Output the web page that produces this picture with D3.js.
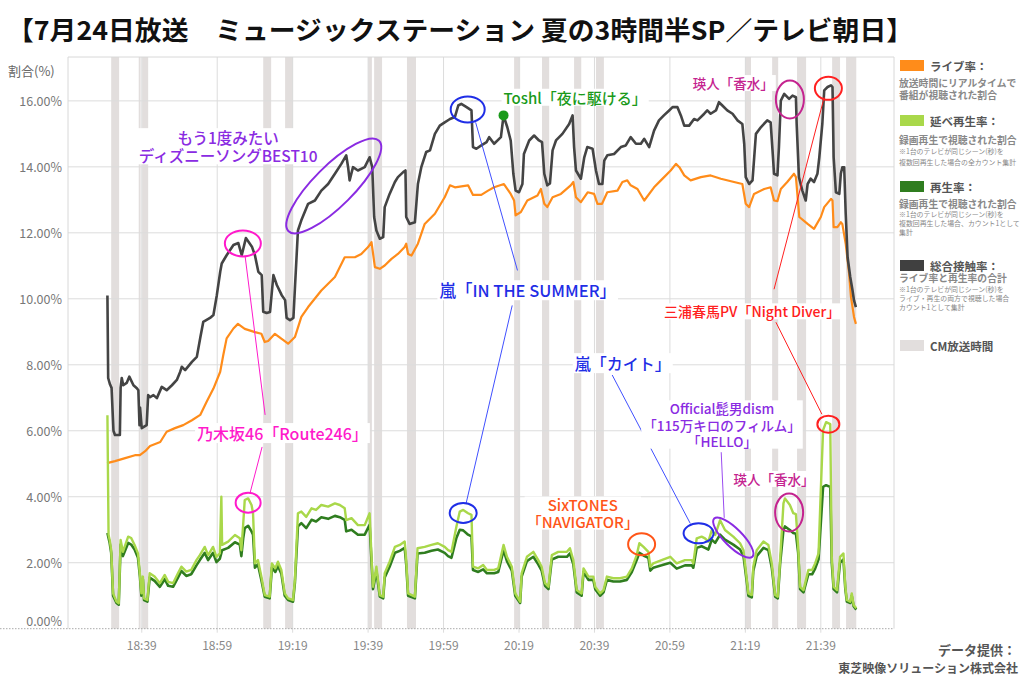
<!DOCTYPE html>
<html><head><meta charset="utf-8">
<script src="https://cdn.jsdelivr.net/npm/d3@7"></script>
<style>body{margin:0;background:#fff}svg{display:block;font-family:"Noto Sans CJK JP","Noto Sans",sans-serif}</style>
</head><body><svg id="c" width="1024" height="679"></svg>
<script>
// time = minutes after 18:00, value = %
const xTicks = [39, 59, 79, 99, 119, 139, 159, 179, 199, 219];
const yTicks = [0, 2, 4, 6, 8, 10, 12, 14, 16];

const cmBreaks = [[30.9,33.0],[38.2,38.7],[39.1,40.7],[71.2,73.3],[77.0,79.1],[99.0,100.0],[100.6,102.7],[109.3,111.7],[137.7,139.3],[145.1,147.0],[153.6,155.5],[159.4,161.5],[198.9,200.5],[206.1,207.7],[212.7,215.1],[222.0,224.1],[225.7,228.4]];

const totalReach = [[29.9,10.1],[30.1,7.6],[30.6,7.4],[31.0,7.3],[31.5,6.0],[31.9,5.87],[33.2,5.87],[33.4,7.3],[33.7,7.6],[34.1,7.38],[35.0,7.45],[35.7,7.64],[36.8,7.38],[37.7,7.29],[38.1,7.23],[38.4,6.17],[38.55,6.7],[39.0,6.08],[40.3,6.17],[40.7,7.08],[41.2,7.02],[42.1,7.08],[43.0,6.99],[44.3,7.33],[45.6,7.23],[47.0,7.38],[48.3,7.54],[49.2,7.79],[49.6,7.94],[50.5,7.84],[52.3,8.09],[53.6,8.24],[54.5,8.81],[55.3,9.3],[57.1,9.42],[58.0,9.51],[58.9,10.11],[59.8,10.82],[60.2,11.07],[61.5,11.32],[63.3,11.63],[64.6,11.69],[65.5,11.32],[66.6,11.84],[68.2,11.58],[69.0,11.32],[69.9,10.82],[70.8,10.72],[71.2,9.61],[72.1,9.57],[73.0,9.6],[73.9,10.72],[74.8,10.42],[76.1,10.11],[77.0,9.96],[77.4,9.42],[78.3,9.35],[79.2,9.42],[79.6,10.32],[80.4,12.07],[81.3,12.38],[83.1,12.88],[84.9,12.98],[86.6,13.28],[88.4,13.48],[90.2,13.79],[91.9,14.09],[93.2,14.35],[93.7,13.99],[94.1,13.59],[95.0,13.99],[96.3,13.89],[98.1,13.99],[99.4,14.29],[100.1,13.99],[100.6,12.48],[101.2,12.07],[102.1,11.82],[103.0,11.87],[103.4,12.78],[104.7,13.18],[106.1,13.54],[106.9,13.69],[108.3,13.84],[108.9,13.89],[109.1,12.48],[110.0,12.27],[111.4,12.32],[112.2,13.48],[113.1,13.99],[114.4,14.45],[115.4,14.5],[116.7,15.0],[118.0,15.25],[119.3,15.35],[120.7,15.45],[122.0,15.51],[122.9,15.86],[123.7,15.91],[125.1,15.81],[126.4,15.71],[126.8,14.6],[127.7,14.55],[129.0,14.65],[130.4,14.75],[131.1,14.9],[132.4,14.7],[134.2,14.9],[134.9,15.55],[135.9,15.2],[136.8,14.8],[137.5,13.79],[138.1,13.28],[139.0,13.23],[139.9,13.48],[140.3,14.39],[141.7,14.8],[143.0,14.95],[144.3,14.8],[145.1,14.75],[145.7,13.79],[146.5,13.44],[147.2,13.5],[147.9,14.5],[148.8,14.8],[150.5,15.0],[152.3,15.3],[153.2,15.56],[153.6,14.6],[154.1,13.89],[155.4,13.64],[156.3,14.29],[157.1,14.6],[158.5,14.55],[159.4,13.89],[160.2,13.48],[161.1,13.48],[161.6,14.19],[162.4,14.35],[164.2,14.39],[166.0,14.6],[167.3,14.65],[168.6,14.9],[170.0,14.7],[171.3,14.7],[172.2,14.85],[173.5,14.6],[174.8,15.1],[176.1,15.41],[177.4,15.56],[178.8,15.71],[179.7,15.81],[181.0,15.81],[181.9,15.56],[182.8,15.25],[184.1,15.25],[185.4,15.45],[186.3,15.41],[188.1,15.61],[188.9,15.71],[189.8,15.61],[191.2,15.71],[192.0,15.96],[192.9,15.86],[194.2,15.71],[195.6,15.61],[196.9,15.41],[198.2,15.3],[198.7,14.7],[199.1,13.69],[200.0,13.48],[200.9,13.59],[201.8,15.0],[203.1,15.2],[204.8,15.41],[205.7,15.35],[206.2,14.5],[206.6,13.79],[207.5,13.74],[207.9,14.6],[208.4,16.01],[209.3,16.21],[210.6,16.06],[211.5,16.16],[212.4,16.11],[212.6,15.3],[213.2,13.69],[214.1,13.28],[215.0,12.98],[215.5,13.48],[216.3,13.64],[217.2,13.54],[218.1,13.79],[218.6,14.29],[219.4,15.3],[219.9,16.32],[220.8,16.42],[221.7,16.47],[222.1,16.42],[222.4,14.29],[223.0,13.23],[223.9,13.18],[224.3,13.79],[224.7,13.99],[225.2,13.99],[225.6,12.58],[226.1,11.26],[226.8,10.66],[227.4,10.26],[227.8,9.95],[228.3,9.75]];

const liveRate = [[29.8,5.02],[31.9,5.08],[34.6,5.17],[37.2,5.26],[38.5,5.26],[39.9,5.38],[41.2,5.54],[43.9,5.66],[45.6,5.97],[47.8,6.08],[50.0,6.17],[52.3,6.32],[54.5,6.48],[56.2,6.88],[58.0,7.28],[59.8,7.79],[60.6,8.29],[61.5,8.8],[63.3,9.1],[64.5,9.24],[66.3,9.09],[69.0,8.99],[70.7,8.94],[71.6,8.69],[72.5,8.72],[74.3,8.94],[76.0,8.79],[77.8,8.64],[79.6,8.84],[81.3,9.45],[83.1,9.75],[86.6,10.25],[90.2,10.66],[92.8,11.26],[95.5,11.26],[97.2,11.36],[99.0,11.57],[99.9,11.72],[100.8,10.96],[102.1,10.91],[103.4,11.01],[105.2,11.21],[106.9,11.36],[108.7,11.57],[109.1,11.67],[109.6,11.36],[110.5,11.31],[112.2,11.67],[114.0,12.27],[116.7,12.58],[119.3,13.08],[120.7,13.44],[122.0,13.38],[125.5,13.44],[126.8,13.15],[129.0,13.15],[130.8,13.28],[132.4,13.38],[135.0,13.48],[136.8,13.18],[137.7,12.98],[138.1,12.53],[139.5,12.63],[141.2,12.98],[143.9,13.13],[144.8,13.33],[145.7,12.88],[146.5,12.78],[147.9,13.08],[150.1,13.18],[152.7,13.44],[153.4,13.54],[154.1,13.08],[155.4,12.93],[157.2,13.23],[158.9,13.18],[159.8,12.88],[161.0,12.88],[162.4,13.23],[165.1,13.28],[166.4,13.54],[167.7,13.59],[168.6,13.44],[170.4,13.33],[172.2,12.98],[174.8,13.38],[176.6,13.59],[179.2,13.89],[180.6,14.09],[181.5,13.99],[182.8,13.74],[184.5,13.59],[187.2,13.69],[189.8,13.74],[192.5,13.64],[196.0,13.54],[198.2,13.48],[199.1,12.88],[200.0,12.78],[201.3,13.18],[204.0,13.33],[205.7,13.38],[206.6,12.98],[207.5,12.96],[208.4,13.33],[210.1,13.54],[211.9,13.79],[212.4,13.69],[213.3,12.48],[215.5,12.27],[217.2,12.12],[219.0,12.48],[219.9,12.78],[221.7,13.03],[222.1,12.98],[222.4,12.17],[223.4,12.17],[224.3,12.32],[224.7,12.27],[225.6,11.67],[226.5,10.76],[227.0,10.05],[227.8,9.45],[228.3,9.24]];

const replayTotal = [[29.9,6.47],[30.2,2.84],[30.5,2.69],[30.9,2.38],[31.4,1.07],[32.3,0.82],[32.9,0.77],[33.4,2.69],[34.0,2.33],[35.4,2.79],[36.2,2.75],[37.1,2.54],[38.0,2.28],[38.5,1.68],[38.9,1.07],[39.3,1.58],[39.6,0.92],[40.5,0.87],[41.1,1.68],[42.4,1.58],[43.8,1.38],[45.1,1.63],[46.0,1.42],[47.3,1.38],[48.6,1.68],[49.5,1.88],[50.8,1.73],[52.1,1.78],[53.5,2.08],[54.4,2.23],[55.7,2.48],[56.6,2.23],[57.9,2.48],[58.8,2.18],[59.7,2.28],[60.1,4.0],[60.3,2.54],[61.9,2.64],[63.7,2.84],[65.0,2.74],[65.4,2.38],[65.9,3.19],[66.3,3.9],[67.2,3.95],[68.1,3.75],[68.5,3.5],[69.0,1.98],[69.8,2.08],[70.7,1.58],[71.6,1.02],[72.9,0.97],[73.5,1.98],[74.4,1.83],[75.1,2.03],[76.0,1.78],[76.9,1.07],[77.8,0.92],[79.1,0.87],[79.6,1.48],[80.4,3.5],[81.3,3.55],[82.6,3.39],[84.0,3.65],[85.2,3.6],[86.6,3.75],[88.4,3.7],[90.2,3.8],[91.5,3.75],[92.8,3.65],[93.2,3.29],[94.6,3.35],[96.3,3.14],[98.1,3.14],[99.4,3.5],[99.9,2.18],[100.3,1.27],[101.2,1.88],[102.1,1.02],[103.0,0.97],[103.4,1.68],[104.7,2.03],[106.1,2.48],[107.4,2.54],[108.7,2.64],[109.1,2.08],[109.6,1.07],[111.4,0.97],[112.1,2.44],[114.0,2.48],[115.8,2.54],[117.5,2.59],[119.3,2.48],[120.2,2.38],[121.1,2.33],[122.4,3.09],[123.3,3.55],[124.2,3.6],[125.5,3.5],[126.4,3.45],[126.8,1.88],[128.2,1.83],[129.5,1.93],[130.5,1.78],[132.4,1.78],[133.5,1.83],[134.9,2.54],[135.8,2.18],[137.1,1.88],[138.0,1.07],[139.3,0.82],[139.7,1.68],[141.1,2.18],[142.8,2.33],[144.1,2.08],[145.0,1.88],[145.9,1.38],[146.8,1.27],[147.7,2.23],[149.4,2.33],[151.7,2.33],[152.5,2.44],[153.4,2.08],[154.3,1.17],[155.6,1.07],[156.1,1.83],[157.4,1.58],[158.7,1.58],[159.2,1.27],[160.5,1.07],[161.4,1.17],[162.3,1.58],[164.0,1.53],[165.8,1.53],[167.6,1.58],[168.9,1.83],[170.2,2.23],[170.9,2.59],[172.0,2.48],[173.3,2.33],[173.8,1.88],[174.6,1.98],[176.8,2.08],[179.1,2.18],[180.8,1.98],[183.0,2.08],[184.8,2.08],[185.2,1.98],[186.1,2.74],[187.4,2.79],[188.3,2.74],[189.2,2.64],[190.1,2.99],[191.0,2.84],[192.3,3.29],[193.6,2.99],[195.8,2.79],[197.6,2.59],[198.5,2.38],[199.4,1.48],[199.8,1.07],[200.7,1.02],[201.1,1.88],[202.0,2.38],[203.8,2.64],[205.1,2.54],[206.0,1.98],[206.9,1.02],[207.6,0.97],[208.2,2.08],[209.1,3.8],[209.5,3.95],[210.8,3.75],[211.7,3.5],[212.4,3.47],[213.0,2.48],[213.5,1.27],[214.4,1.17],[215.7,1.78],[216.7,1.78],[217.5,1.98],[218.4,2.28],[219.0,4.2],[219.6,6.02],[220.4,6.26],[221.5,6.2],[221.9,2.18],[222.4,1.27],[223.3,1.17],[224.1,2.18],[225.0,2.28],[225.5,1.27],[225.9,0.87],[226.8,0.82],[227.2,1.07],[227.7,0.72],[228.4,0.62]];

const replay = [[29.9,2.9],[30.2,2.75],[30.5,2.6],[30.9,2.3],[31.4,1.0],[32.3,0.78],[32.9,0.73],[33.4,2.55],[34.0,2.2],[35.4,2.6],[36.2,2.55],[37.1,2.4],[38.0,2.15],[38.5,1.6],[38.9,1.0],[39.3,1.5],[39.6,0.87],[40.5,0.82],[41.1,1.55],[42.4,1.45],[43.8,1.27],[45.1,1.5],[46.0,1.3],[47.3,1.27],[48.6,1.55],[49.5,1.75],[50.8,1.6],[52.1,1.65],[53.5,1.92],[54.4,2.08],[55.7,2.3],[56.6,2.08],[57.9,2.3],[58.8,2.02],[59.7,2.12],[60.3,2.38],[61.9,2.45],[63.7,2.62],[65.0,2.55],[65.4,2.2],[65.9,2.75],[66.3,3.05],[67.2,3.12],[68.1,2.95],[68.5,2.85],[69.0,1.85],[69.8,1.95],[70.7,1.48],[71.6,0.97],[72.9,0.92],[73.5,1.85],[74.4,1.72],[75.1,1.9],[76.0,1.67],[76.9,1.0],[77.8,0.87],[79.1,0.82],[79.6,1.4],[80.4,3.1],[81.3,3.2],[82.6,3.05],[84.0,3.3],[85.2,3.25],[86.6,3.38],[88.4,3.33],[90.2,3.42],[91.5,3.38],[92.8,3.3],[93.2,2.95],[94.6,3.0],[96.3,2.85],[98.1,2.85],[99.4,3.15],[99.9,2.05],[100.3,1.2],[101.2,1.75],[102.1,0.97],[103.0,0.92],[103.4,1.55],[104.7,1.88],[106.1,2.3],[107.4,2.36],[108.7,2.45],[109.1,1.95],[109.6,1.0],[111.4,0.92],[112.1,2.28],[114.0,2.3],[115.8,2.36],[117.5,2.4],[119.3,2.3],[120.2,2.2],[121.1,2.15],[122.4,2.75],[123.3,3.0],[124.2,2.98],[125.5,2.85],[126.4,2.8],[126.8,1.78],[128.2,1.72],[129.5,1.8],[130.5,1.68],[132.4,1.68],[133.5,1.72],[134.9,2.38],[135.8,2.05],[137.1,1.76],[138.0,1.0],[139.3,0.78],[139.7,1.58],[141.1,2.05],[142.8,2.18],[144.1,1.95],[145.0,1.76],[145.9,1.3],[146.8,1.2],[147.7,2.1],[149.4,2.18],[151.7,2.18],[152.5,2.28],[153.4,1.95],[154.3,1.1],[155.6,1.0],[156.1,1.72],[157.4,1.48],[158.7,1.48],[159.2,1.2],[160.5,1.0],[161.4,1.1],[162.3,1.48],[164.0,1.43],[165.8,1.43],[167.6,1.48],[168.9,1.72],[170.2,2.08],[170.9,2.3],[172.0,2.22],[173.3,2.15],[173.8,1.76],[174.6,1.85],[176.8,1.92],[179.1,2.0],[180.8,1.82],[183.0,1.92],[184.8,1.92],[185.2,1.85],[186.1,2.45],[187.4,2.5],[188.3,2.45],[189.2,2.4],[190.1,2.7],[191.0,2.6],[192.3,2.85],[193.6,2.7],[195.8,2.55],[197.6,2.4],[198.5,2.2],[199.4,1.4],[199.8,1.0],[200.7,0.95],[201.1,1.75],[202.0,2.2],[203.8,2.45],[205.1,2.38],[206.0,1.85],[206.9,0.97],[207.6,0.92],[208.2,1.95],[209.1,3.0],[209.5,3.1],[210.8,2.99],[211.7,2.9],[212.4,2.88],[213.0,2.3],[213.5,1.2],[214.4,1.1],[215.7,1.65],[216.7,1.65],[217.5,1.82],[218.4,2.1],[219.0,3.2],[219.6,4.3],[220.4,4.35],[221.5,4.3],[221.9,2.0],[222.4,1.2],[223.3,1.1],[224.1,2.0],[225.0,2.1],[225.5,1.2],[225.9,0.82],[226.8,0.78],[227.2,1.0],[227.7,0.68],[228.4,0.58]];

const title = "【7月24日放送　ミュージックステーション 夏の3時間半SP／テレビ朝日】";

const svg = d3.select("#c");
const x = d3.scaleLinear().domain([19.45, 238.4]).range([68, 894]);
const y = d3.scaleLinear().domain([0, 17.33]).range([628.7, 57]);
const X0 = 68, X1 = 894, Y0 = 628.7, Y1 = 57;

// title
svg.append("text").attr("x", 7).attr("y", 28).attr("dominant-baseline", "central")
  .attr("font-size", 26).attr("font-weight", "bold").attr("fill", "#111")
  .attr("textLength", 906).attr("lengthAdjust", "spacingAndGlyphs").text(title);

// CM bands
svg.append("g").selectAll("rect").data(cmBreaks).join("rect")
  .attr("x", d => x(d[0])).attr("width", d => x(d[1]) - x(d[0]))
  .attr("y", Y1).attr("height", Y0 - Y1).attr("fill", "#e2dedd");

// grid
const grid = svg.append("g").attr("stroke", "#dcdcdc").attr("stroke-width", 1);
grid.selectAll("line.h").data(yTicks.filter(d => d > 0)).join("line")
  .attr("x1", X0).attr("x2", X1).attr("y1", d => y(d)).attr("y2", d => y(d));
grid.selectAll("line.v").data(xTicks).join("line")
  .attr("x1", d => x(d)).attr("x2", d => x(d)).attr("y1", Y1).attr("y2", Y0 + 4);
// frame
svg.append("line").attr("x1", X0).attr("x2", X1).attr("y1", Y1).attr("y2", Y1).attr("stroke", "#d8d8d8");
svg.append("line").attr("x1", X0).attr("x2", X0).attr("y1", Y1).attr("y2", Y0).attr("stroke", "#d8d8d8");
svg.append("line").attr("x1", X1).attr("x2", X1).attr("y1", Y1).attr("y2", Y0).attr("stroke", "#d8d8d8");
svg.append("line").attr("x1", 0).attr("x2", X1).attr("y1", Y0).attr("y2", Y0)
  .attr("stroke", "#aaa").attr("stroke-dasharray", "1.5,1.5");

// axis labels
svg.append("g").selectAll("text").data(yTicks).join("text")
  .attr("x", 62).attr("y", d => Math.min(y(d), 620)).attr("text-anchor", "end")
  .attr("dominant-baseline", "central").attr("font-size", 12.5).attr("fill", "#777")
  .text(d => d3.format(".2f")(d) + "%");
svg.append("g").selectAll("text").data(xTicks).join("text")
  .attr("x", d => x(d)).attr("y", 644).attr("text-anchor", "middle")
  .attr("dominant-baseline", "central").attr("font-size", 12).attr("fill", "#888")
  .text(d => (18 + Math.floor(d / 60)) + ":" + String(d % 60).padStart(2, "0"));
svg.append("text").attr("x", 8).attr("y", 70).attr("dominant-baseline", "central")
  .attr("font-size", 13).attr("fill", "#666").text("割合(%)");

// lines
const line = d3.line().x(d => x(d[0])).y(d => y(d[1]));
const series = [
  [liveRate, "#ff8c1a", 2.2],
  [totalReach, "#444", 2.6],
  [replay, "#2f7d1f", 2.6],
  [replayTotal, "#a9d84a", 2.4]
];
series.forEach(([d, c, w]) => svg.append("path").attr("d", line(d)).attr("fill", "none")
  .attr("stroke", c).attr("stroke-width", w).attr("stroke-linejoin", "round"));

// annotations
const ann = svg.append("g");
function connector(a, b, color) {
  ann.append("line").attr("x1", x(a[0])).attr("y1", y(a[1])).attr("x2", x(b[0])).attr("y2", y(b[1]))
    .attr("stroke", color).attr("stroke-width", 1);
}
function ell(t, v, rx, ry, rot, color) {
  ann.append("ellipse").attr("cx", 0).attr("cy", 0).attr("rx", rx).attr("ry", ry)
    .attr("transform", `translate(${x(t)},${y(v)}) rotate(${rot})`)
    .attr("fill", "none").attr("stroke", color).attr("stroke-width", 2);
}
function label(lines, t, color, size, anchor) {
  const g = ann.append("g");
  const txt = g.append("text").attr("text-anchor", anchor || "middle")
    .attr("font-size", size).attr("font-weight", 500).attr("fill", color);
  lines.forEach(([s, v]) => txt.append("tspan").attr("x", x(t)).attr("y", y(v))
    .attr("dominant-baseline", "central").text(s));
  const bb = txt.node().getBBox();
  g.insert("rect", "text").attr("x", bb.x - 2).attr("y", bb.y + 2).attr("width", bb.width + 4)
    .attr("height", bb.height - 4).attr("fill", "#fff");
}
const PUR = "#8a2be2", PINK = "#ff1acb", BLUE = "#1f2ee6", RED = "#ff2020", MAG = "#c4238f", ORG = "#ff5518", GRN = "#1a9a1a";

connector([66.4, 11.29], [71.7, 6.48], PINK);
connector([70.9, 5.51], [67.7, 4.11], PINK);
connector([127.5, 15.35], [138.6, 10.86], "#4050ff");
connector([137.2, 9.8], [125.0, 3.81], "#4050ff");
connector([206.6, 10.29], [219.9, 16.11], RED);
connector([207.1, 9.29], [219.3, 6.5], RED);
connector([163.7, 7.69], [184.4, 3.19], "#4050ff");
connector([192.6, 5.35], [193.4, 3.36], "#9a4cf0");

ell(89.9, 13.42, 64, 20, -45, PUR);
ell(65.8, 11.68, 18, 13, 0, PINK);
ell(67.2, 3.82, 12.5, 10, 0, PINK);
ell(125.4, 15.74, 17, 13, 0, BLUE);
ell(124.2, 3.51, 13.5, 10, 0, BLUE);
ell(210.8, 16.04, 14, 19, 0, MAG);
ell(210.6, 3.52, 14, 19, 0, MAG);
ell(221.0, 16.38, 13.5, 11.5, 0, RED);
ell(221.0, 6.2, 11, 8.5, 0, RED);
ell(186.6, 2.89, 15, 10, 0, BLUE);
ell(195.8, 2.76, 27, 9, 45, PUR);
ell(171.5, 2.56, 13.5, 11, 0, ORG);
ann.append("circle").attr("cx", x(134.9)).attr("cy", y(15.56)).attr("r", 5).attr("fill", GRN);

label([["もう1度みたい", 14.9], ["ディズニーソングBEST10", 14.35]], 61.9, PUR, 15.5);
label([["乃木坂46「Route246」", 5.93]], 76.3, PINK, 16);
label([["嵐「IN THE SUMMER」", 10.26]], 141.3, BLUE, 16.5);
label([["Toshl「夜に駆ける」", 16.11]], 134.9, GRN, 15, "start");
label([["瑛人「香水」", 16.54]], 195.8, MAG, 13.5);
label([["瑛人「香水」", 4.54]], 206.6, MAG, 13.5);
label([["三浦春馬PV「Night Diver」", 9.62]], 200.8, RED, 14);
label([["嵐「カイト」", 8.05]], 166.5, BLUE, 16);
label([["Official髭男dism", 6.68], ["「115万キロのフィルム」", 6.17], ["「HELLO」", 5.7]], 192.8, PUR, 13.5);
label([["SixTONES", 3.75], ["「NAVIGATOR」", 3.26]], 155.9, ORG, 15);

// legend
const lg = svg.append("g");
const legendItems = [
  { name: "ライブ率：", color: "#ff8c1a", sy: 60, lines: [["放送時間にリアルタイムで", 83, 0], ["番組が視聴された割合", 95, 0]] },
  { name: "延べ再生率：", color: "#a9d84a", sy: 115, lines: [["録画再生で視聴された割合", 140, 0], ["※1台のテレビが同じシーン(秒)を", 151, 1], ["複数回再生した場合の全カウント集計", 162, 1]] },
  { name: "再生率：", color: "#2f7d1f", sy: 181, lines: [["録画再生で視聴された割合", 204, 0], ["※1台のテレビが同じシーン(秒)を", 214, 1], ["複数回再生した場合、カウント1として", 223, 1], ["集計", 232, 1]] },
  { name: "総合接触率：", color: "#404040", sy: 260, lines: [["ライブ率と再生率の合計", 278, 0], ["※1台のテレビが同じシーン(秒)を", 288.5, 1], ["ライブ・再生の両方で視聴した場合", 298, 1], ["カウント1として集計", 307, 1]] },
  { name: "CM放送時間", color: "#e2dedd", sy: 340, lines: [] }
];
legendItems.forEach(it => {
  lg.append("rect").attr("x", 900).attr("y", it.sy).attr("width", 24).attr("height", 11).attr("fill", it.color);
  const txt = lg.append("text").attr("fill", "#555");
  txt.append("tspan").attr("x", 930).attr("y", it.sy + 5.5).attr("dominant-baseline", "central")
    .attr("font-size", 11.5).attr("font-weight", "bold").text(it.name);
  it.lines.forEach(([s, yy, small]) => txt.append("tspan").attr("x", 899).attr("y", yy)
    .attr("dominant-baseline", "central").attr("font-size", small ? 6.9 : 9.8)
    .attr("font-weight", small ? "normal" : "bold").attr("fill", "#888").text(s));
});

const credit = svg.append("text").attr("text-anchor", "end").attr("font-weight", "bold").attr("fill", "#555");
credit.append("tspan").attr("x", 1016).attr("y", 649).attr("dominant-baseline", "central")
  .attr("font-size", 13).text("データ提供：");
credit.append("tspan").attr("x", 1018).attr("y", 667).attr("dominant-baseline", "central")
  .attr("font-size", 12).text("東芝映像ソリューション株式会社");
</script></body></html>
